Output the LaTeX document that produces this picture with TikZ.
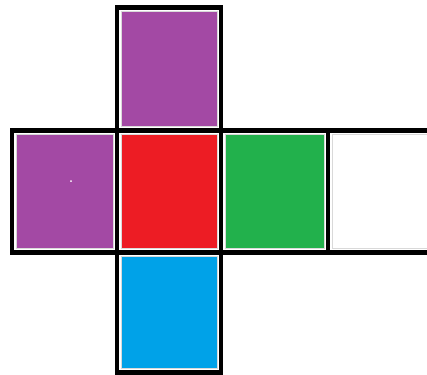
\documentclass[tikz,border=0pt]{standalone}
\usepackage{xcolor}
\usepackage{tikz}
\definecolor{netpurple}{RGB}{163,73,164}
\definecolor{netred}{RGB}{237,28,36}
\definecolor{netgreen}{RGB}{34,177,76}
\definecolor{netblue}{RGB}{0,162,232}
\begin{document}
\begin{tikzpicture}[x=1bp,y=-1bp]
  \tikzset{face/.style={draw=gray!30,line width=0.8bp},
           rim/.style={draw=black,line width=4.5bp}}
  \useasboundingbox (0,0) rectangle (427,375);
  % coloured faces of the net
  \foreach \xa/\ya/\xb/\yb/\col in {117/7.5/221/130.5/netpurple,
      12/130.5/117/252.5/netpurple, 117/130.5/221/252.5/netred,
      221/130.5/328/252.5/netgreen, 328/130.5/432/252.5/white,
      117/252.5/221/372.5/netblue}{
    \draw[face,fill=\col] (\xa+4,\ya+4) rectangle (\xb-4,\yb-4);
  }
  \fill[white] (71,181) circle (1bp);
  % black outlines
  \foreach \xa/\ya/\xb/\yb in {117/7.5/221/130.5, 12/130.5/117/252.5,
      117/130.5/221/252.5, 221/130.5/328/252.5, 328/130.5/432/252.5,
      117/252.5/221/372.5}{
    \draw[rim] (\xa,\ya) rectangle (\xb,\yb);
  }
\end{tikzpicture}
\end{document}
